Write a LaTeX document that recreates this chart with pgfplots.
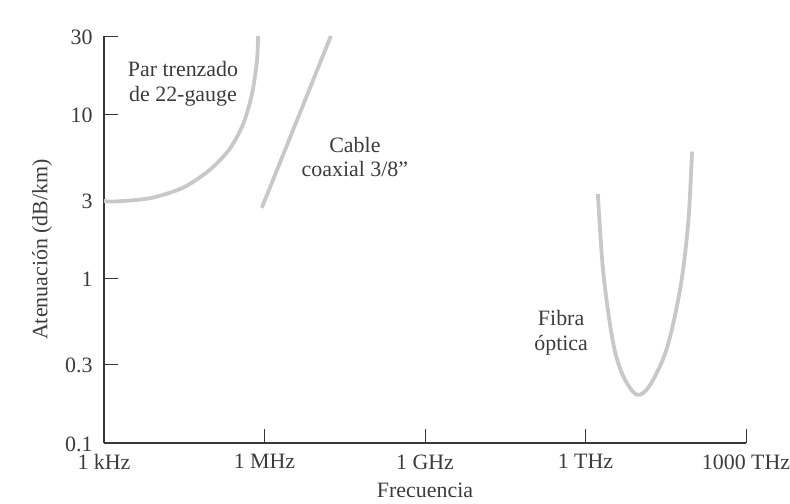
\documentclass[border=0pt]{standalone}
\usepackage{pgfplots}
\pgfplotsset{compat=1.18}
\usepackage{fontspec}
\setmainfont{Liberation Serif}
\definecolor{txt}{RGB}{60,60,60}
\definecolor{ax}{RGB}{55,55,55}
\definecolor{crv}{RGB}{200,200,200}
\newcommand\ff{\fontsize{22}{24.5}\selectfont}
\begin{document}
\begin{tikzpicture}
\useasboundingbox (-104bp,-61bp) rectangle (686bp,443bp);
\begin{axis}[
  scale only axis, width=642bp, height=407bp,
  xmode=log, ymode=log,
  xmin=1e3, xmax=1e15, ymin=0.1, ymax=30,
  axis x line=bottom, axis y line=left,
  axis line style={-, line width=1.6bp, color=ax},
  tick align=inside,
  major tick length=14bp,
  every tick/.style={line width=0.9bp, color=ax},
  minor tick num=0,
  xtick={1e3,1e6,1e9,1e12,1e15},
  xticklabels={1 kHz,1 MHz,1 GHz,1 THz,1000 THz},
  ytick={0.1,0.3,1,3,10,30},
  yticklabels={0.1,0.3,1,3,10,30},
  every tick label/.append style={font=\ff, text=txt},
  xticklabel style={yshift=-8bp},
  yticklabel style={xshift=-8bp, yshift=-1bp},
  clip=false,
]
\addplot[crv, line width=3.8bp, smooth, tension=0.5] coordinates {
  (1e3,2.97) (1.6e3,2.95) (7.2e3,3.09) (3.0e4,3.58) (9.6e4,4.61)
  (2.26e5,6.2) (4.0e5,8.75) (5.8e5,13.2) (7.2e5,20.9) (7.6e5,30)
};
\addplot[crv, line width=3.8bp] coordinates {
  (8.9e5,2.7) (1.74e7,30)
};
\addplot[crv, line width=3.8bp, smooth, tension=0.55] coordinates {
  (1.7e12,3.28) (2.14e12,1.11) (3.24e12,0.416) (5.0e12,0.258)
  (9.1e12,0.197) (1.6e13,0.225) (3.3e13,0.375) (5.9e13,0.875)
  (8.3e13,2.17) (9.8e13,5.94)
};
\node[font=\ff, text=txt, align=center, inner sep=0pt] at (axis cs:3.0e4,15.4) {Par trenzado\\de 22-gauge};
\node[font=\ff, text=txt, align=center, inner sep=0pt] at (axis cs:4.9e7,5.5) {Cable\\coaxial 3/8\char34};
\node[font=\ff, text=txt, align=center, inner sep=0pt] at (axis cs:3.5e11,0.469) {Fibra\\óptica};
\node[font=\ff, text=txt, anchor=center] at ([yshift=-47bp]rel axis cs:0.5,0) {Frecuencia};
\node[font=\ff, text=txt, anchor=center, rotate=90] at ([xshift=-62bp, yshift=-10bp]rel axis cs:0,0.5) {Atenuación (dB/km)};
\end{axis}
\end{tikzpicture}
\end{document}
